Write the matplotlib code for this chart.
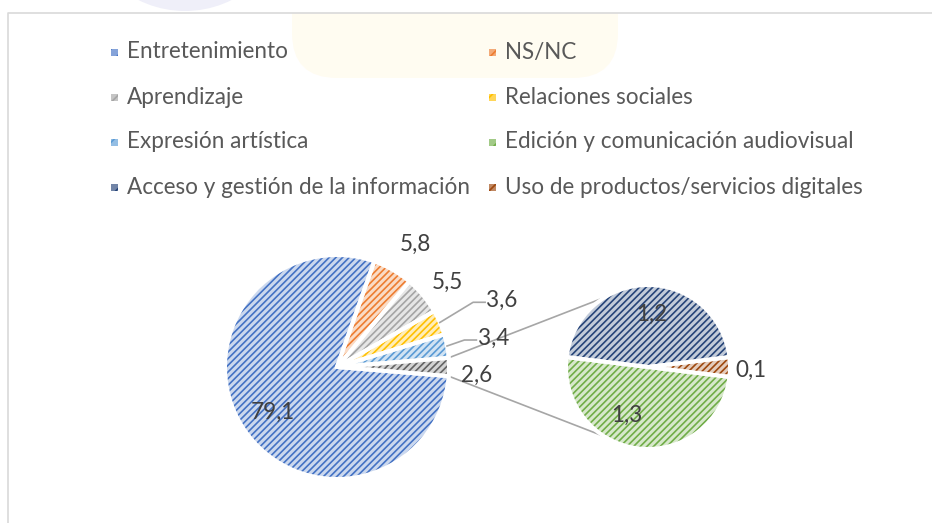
import numpy as np
import matplotlib.pyplot as plt
from matplotlib.patches import Rectangle, Ellipse, FancyBboxPatch
from matplotlib.colors import to_rgb

plt.rcParams['font.family'] = ['Lato', 'DejaVu Sans']
plt.rcParams['hatch.linewidth'] = 1.0

# Datos (porcentajes)
nombres_principal = ['Entretenimiento', 'NS/NC', 'Aprendizaje', 'Relaciones sociales',
                     'Expresión artística', 'Otros']
valores_principal = [79.1, 5.8, 5.5, 3.6, 3.4, 2.6]

nombres_secundario = ['Acceso y gestión de la información',
                      'Uso de productos/servicios digitales',
                      'Edición y comunicación audiovisual']
valores_secundario = [1.2, 0.1, 1.3]

orden_leyenda = ['Entretenimiento', 'NS/NC', 'Aprendizaje', 'Relaciones sociales',
                 'Expresión artística', 'Edición y comunicación audiovisual',
                 'Acceso y gestión de la información', 'Uso de productos/servicios digitales']

colores = {
    'Entretenimiento': '#4472C4',
    'NS/NC': '#ED7D31',
    'Aprendizaje': '#A5A5A5',
    'Relaciones sociales': '#FFC000',
    'Expresión artística': '#5B9BD5',
    'Edición y comunicación audiovisual': '#70AD47',
    'Acceso y gestión de la información': '#264478',
    'Uso de productos/servicios digitales': '#9E480E',
    'Otros': '#636363',
}


def claro(c, f=0.72):
    r, g, b = to_rgb(c)
    return (r + (1 - r) * f, g + (1 - g) * f, b + (1 - b) * f)


def fmt(v):
    return f"{v:.1f}".replace('.', ',')


W, H = 932, 523
DPI = 120
fig = plt.figure(figsize=(W / DPI, H / DPI), dpi=DPI)
ax = fig.add_axes([0, 0, 1, 1])

# fondo: marca de agua y marco del grafico
ax.add_patch(FancyBboxPatch((292, H - 78), 326, 110, boxstyle='round,pad=0,rounding_size=45',
                            color='#fffcf1', zorder=0, lw=0))
ax.add_patch(Rectangle((0, H - 13), W, 13, color='white', zorder=0.5, lw=0))
ax.add_patch(Ellipse((185, H + 84), 200, 190, color='#efeff9', zorder=0.6, lw=0))
ax.plot([8, 8, W + 5], [-5, H - 13, H - 13], color='#d9d9d9', lw=1.0, zorder=1)

c1, r1 = (337, H - 367), 112
c2, r2 = (648, H - 367), 82

total1 = sum(valores_principal)
ini1 = -valores_principal[-1] / total1 * 180
total2 = sum(valores_secundario)
ini2 = (valores_secundario[0] + valores_secundario[1] / 2) / total2 * 360


def dibujar_pie(valores, nombres, centro, radio, inicio):
    cols = [colores[n] for n in nombres]
    wedges, _ = ax.pie(valores, center=centro, radius=radio, startangle=inicio,
                       counterclock=False, colors=[claro(c) for c in cols],
                       wedgeprops=dict(linewidth=0))
    for w, c in zip(wedges, cols):
        w.set_hatch('//////')
        w.set_edgecolor(c)
        w.set_linewidth(0)
        w.set_zorder(2)
    bordes, _ = ax.pie(valores, center=centro, radius=radio, startangle=inicio,
                       counterclock=False, colors=['none'] * len(valores),
                       wedgeprops=dict(edgecolor='white', linewidth=2.4))
    for b in bordes:
        b.set_zorder(3)
    return wedges


w1 = dibujar_pie(valores_principal, nombres_principal, c1, r1, ini1)
w2 = dibujar_pie(valores_secundario, nombres_secundario, c2, r2, ini2)

# lineas de union entre el sector "Otros" y el segundo grafico
otros = w1[-1]
ang_union = 122
for a1, a2 in [(otros.theta2, ang_union), (otros.theta1, -ang_union)]:
    p1 = (c1[0] + r1 * np.cos(np.radians(a1)), c1[1] + r1 * np.sin(np.radians(a1)))
    p2 = (c2[0] + r2 * np.cos(np.radians(a2)), c2[1] + r2 * np.sin(np.radians(a2)))
    ax.plot([p1[0], p2[0]], [p1[1], p2[1]], color='#a6a6a6', lw=1.0, zorder=1)

# etiquetas de datos
dist1 = [0.70, 1.30, 1.24, 1.59, 1.42, 1.25]
giro1 = [2.5, -2.5, -2.4, -1.4, -0.3, -3.3]
dist2 = [0.65, 1.26, 0.64]
giro2 = [-4.3, -1.7, -17]


def etiquetar(wedges, valores, centro, radio, dists, giros):
    for w, v, d, g in zip(wedges, valores, dists, giros):
        mid = (w.theta1 + w.theta2) / 2
        a = np.radians(mid + g)
        x = centro[0] + d * radio * np.cos(a)
        y = centro[1] + d * radio * np.sin(a)
        ax.text(x, y, fmt(v), ha='center', va='center', fontsize=13.5,
                color='#404040', zorder=5)
        if d > 1.35:
            am = np.radians(mid)
            px = centro[0] + radio * np.cos(am)
            py = centro[1] + radio * np.sin(am)
            xt = x - 17
            ax.plot([px, xt - 12, xt], [py, y - 2, y - 2], color='#a6a6a6',
                    lw=1.0, zorder=4)


etiquetar(w1, valores_principal, c1, r1, dist1, giro1)
etiquetar(w2, valores_secundario, c2, r2, dist2, giro2)

# leyenda
col_x = [114, 492]
fila_y0, paso = H - 52, 45
for i, nombre in enumerate(orden_leyenda):
    fila, col = divmod(i, 2)
    x = col_x[col]
    y = fila_y0 - fila * paso
    c = colores[nombre]
    ax.add_patch(Rectangle((x - 3.5, y - 3.5), 7, 7, facecolor=claro(c, 0.35),
                           edgecolor=c, hatch='///', lw=0, zorder=5))
    ax.text(x + 13, y, nombre, ha='left', va='center', fontsize=13.5,
            color='#595959', zorder=5)

ax.set_xlim(0, W)
ax.set_ylim(0, H)
ax.set_aspect('auto')
ax.axis('off')

fig.savefig('out.png', dpi=DPI)
